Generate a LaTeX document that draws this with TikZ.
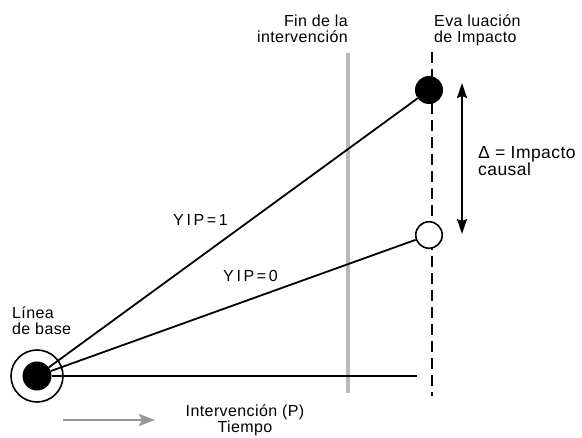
\documentclass[tikz,border=0pt]{standalone}
\usepackage{fontspec}
\setmainfont{Liberation Sans}[LetterSpace=2.5]
\usetikzlibrary{arrows.meta,positioning,calc}

\begin{document}
\begin{tikzpicture}[x=1pt, y=-1pt,
  txt/.style={draw=none, inner sep=0pt, font=\fontsize{16}{15.5}\selectfont},
  thick line/.style={line width=1.8pt},
  dot/.style={circle, inner sep=0pt, minimum size=28pt}]

\useasboundingbox (0,0) rectangle (582,438);

% Time markers
\coordinate (fin top) at (348, 53);
\coordinate (fin bottom) at (348, 393);
\coordinate (eval top) at (432, 52);
\coordinate (eval bottom) at (432, 396);
\draw[line width=3.5pt, color=black!27] (fin top) -- (fin bottom);
\draw[thick line, dash pattern=on 11pt off 6pt] (eval top) -- (eval bottom);

% Points
\node[dot, minimum size=29pt] (base) at (37, 376) {};
\node[dot] (yip1) at (429, 90) {};
\node[dot] (yip0) at (429, 235) {};
\coordinate (end) at (417, 376);

% Trajectories
\draw[thick line] (base) -- (yip1);
\draw[thick line] (base) -- (yip0);
\draw[thick line] (base) -- (end);

\node[draw, circle, line width=1.6pt, inner sep=0pt, minimum size=52pt] (ring) at (base) {};
\node[dot, minimum size=29pt, fill=black] at (base) {};
\node[dot, fill=black] at (yip1) {};
\node[dot, fill=white, draw, line width=1.6pt, minimum size=26.5pt] at (yip0) {};

% Impact
\coordinate (delta top) at (462, 83);
\coordinate (delta bottom) at (462, 234);
\draw[line width=1.8pt, {Stealth[length=15pt, width=10pt, inset=2pt]}-{Stealth[length=15pt, width=10pt, inset=2pt]}] (delta top) -- (delta bottom);

% Time axis
\coordinate (axis start) at (63, 420);
\coordinate (axis end) at (155, 420);
\draw[line width=2.6pt, color=black!40, -{Stealth[length=16pt, width=12pt, inset=3pt]}] (axis start) -- (axis end);

% Labels
\node[txt, anchor=north east, align=right] (fin) at (348, 15) {Fin de la\\intervención};
\node[txt, anchor=north west, align=left] (eval) at (434, 15) {Eva luación\\de Impacto};
\node[txt, anchor=north west, align=left] (linea) at (12, 307) {Línea\\de base};
\node[txt, anchor=north west] (lab1) at (173, 214) {Y\,I\,P\,=\,1};
\node[txt, anchor=north west] (lab0) at (223, 270) {Y\,I\,P\,=\,0};
\node[txt, anchor=north west, align=left, font=\fontsize{17.5}{14.5}\selectfont] (impact) at (478, 146) {Δ = Impacto\\causal};
\node[txt, anchor=north, align=center] (time) at (245, 405) {Intervención (P)\\Tiempo};

\end{tikzpicture}
\end{document}
